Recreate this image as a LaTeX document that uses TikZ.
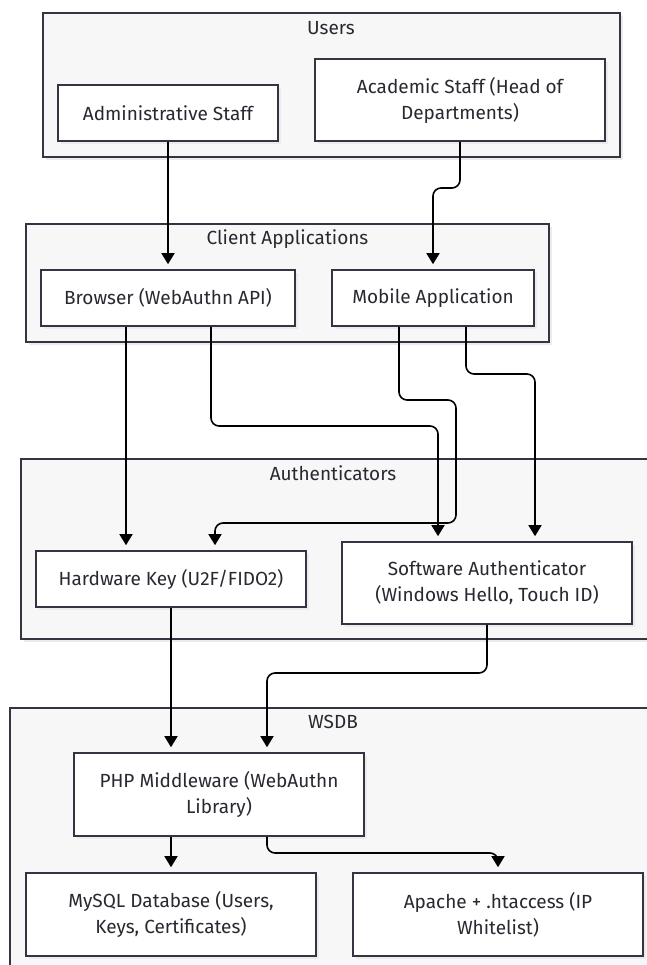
\documentclass[tikz,border=0pt]{standalone}
\usepackage{fontspec}
\setmainfont{Fira Sans}
\usetikzlibrary{arrows.meta,shadows}
\definecolor{edgeclr}{RGB}{52,52,66}
\definecolor{groupfill}{RGB}{247,247,247}
\definecolor{txtclr}{RGB}{40,40,48}
\tikzset{
  groupbox/.style={draw=edgeclr, line width=1.6pt, fill=groupfill,
    drop shadow={shadow xshift=3pt, shadow yshift=-3pt, fill=black!8, opacity=1}},
  grouplabel/.style={text=txtclr, font=\fontsize{19}{24}\selectfont, anchor=center},
  compbox/.style={draw=edgeclr, line width=1.6pt, fill=white, text=txtclr,
    align=center, inner sep=0pt, font=\fontsize{19}{26}\selectfont,
    drop shadow={shadow xshift=3pt, shadow yshift=-3pt, fill=black!8, opacity=1}},
  flow/.style={draw=black, line width=1.6pt, rounded corners=8pt,
    -{Triangle[length=11pt,width=13pt]}, shorten >=5pt}
}
\begin{document}
\begin{tikzpicture}[x=1pt,y=-1pt]
\useasboundingbox (0,0) rectangle (646,965);

% subsystem frames
\path[groupbox] (43,13) rectangle (620,157);
\node[grouplabel] (usersT) at (331,28) {Users};
\path[groupbox] (26,224) rectangle (549,342);
\node[grouplabel] (clientT) at (287.5,239) {Client Applications};
\path[groupbox] (21,459) rectangle (670,639);
\node[grouplabel] (authT) at (333,473) {Authenticators};
\path[groupbox] (10,708) rectangle (670,990);
\node[grouplabel] (wsdbT) at (333,722) {WSDB};

% components
\node[compbox, minimum width=220pt, minimum height=56pt] (admin) at (168,113) {Administrative Staff};
\node[compbox, minimum width=290pt, minimum height=82pt] (academic) at (460,100) {Academic Staff (Head of\\Departments)};
\node[compbox, minimum width=254pt, minimum height=56pt] (browser) at (168,298) {Browser (WebAuthn API)};
\node[compbox, minimum width=202pt, minimum height=56pt] (mobile) at (433,298) {Mobile Application};
\node[compbox, minimum width=270pt, minimum height=56pt] (hw) at (171,579) {Hardware Key (U2F/FIDO2)};
\node[compbox, minimum width=290pt, minimum height=82pt] (sw) at (487,583) {Software Authenticator\\(Windows Hello, Touch ID)};
\node[compbox, minimum width=290pt, minimum height=83pt] (php) at (219,794.5) {PHP Middleware (WebAuthn\\Library)};
\node[compbox, minimum width=290pt, minimum height=83pt] (mysql) at (171,914.5) {MySQL Database (Users,\\Keys, Certificates)};
\node[compbox, minimum width=290pt, minimum height=83pt] (apache) at (498,914.5) {Apache + .htaccess (IP\\Whitelist)};

% connectors
\draw[flow] (admin.south) -- (browser.north);
\draw[flow] (academic.south) -- (460,188) -| (mobile.north);
\draw[flow] ([xshift=-42pt]browser.south) -- ([xshift=-45pt]hw.north);
\draw[flow] ([xshift=43pt]browser.south) -- (211,426) -| ([xshift=-49pt]sw.north);
\draw[flow] ([xshift=-34pt]mobile.south) -- (399,400) -| (456,523) -| ([xshift=44pt]hw.north);
\draw[flow] ([xshift=33pt]mobile.south) -- (466,374) -| ([xshift=48pt]sw.north);
\draw[flow] (hw.south) -- ([xshift=-48pt]php.north);
\draw[flow] (sw.south) -- (487,673) -| ([xshift=48pt]php.north);
\draw[flow] ([xshift=-48pt]php.south) -- (mysql.north);
\draw[flow] ([xshift=48pt]php.south) -- (267,853) -| (apache.north);
\end{tikzpicture}
\end{document}
